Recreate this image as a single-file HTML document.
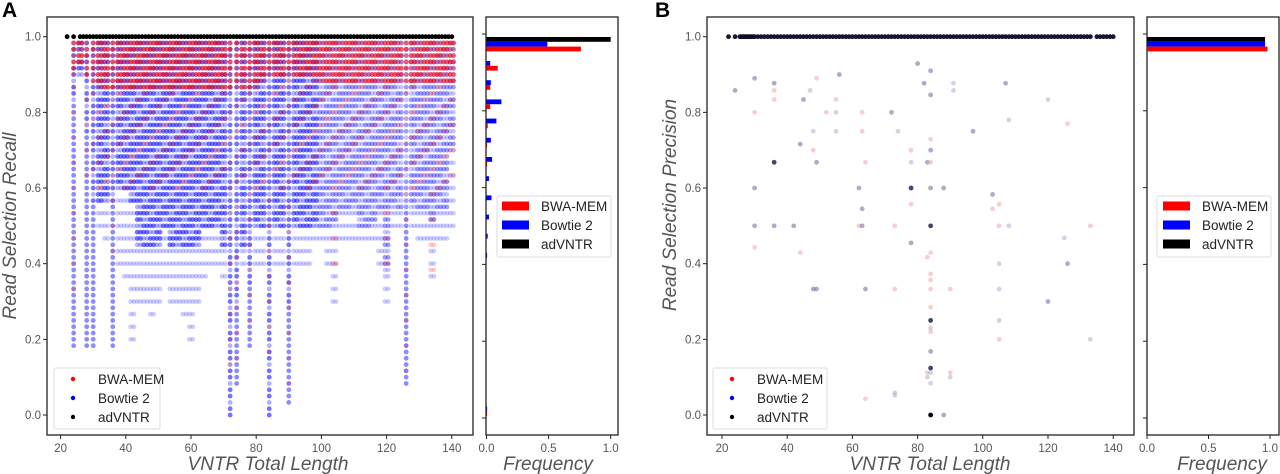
<!DOCTYPE html>
<html><head><meta charset="utf-8">
<style>
html,body{margin:0;padding:0;background:#fff;}
svg{display:block;font-family:"Liberation Sans","DejaVu Sans",sans-serif;}
.tk{font-size:11.5px;fill:#555;}
.ttl{font-size:19px;fill:#555;font-style:italic;}
.lg{font-size:13.5px;fill:#222;}
</style></head>
<body>
<svg id="fig" width="1280" height="474" viewBox="0 0 1280 474">
  <text x="2" y="17" font-size="21" font-weight="bold" fill="#000">A</text>
  <text x="655" y="17" font-size="21" font-weight="bold" fill="#000">B</text>
  <g id="aScatter"></g>
  <g id="aHist"></g>
  <g id="bScatter"></g>
  <g id="bHist"></g>
</svg>
<script>
// ---------- data ----------
const yTicks = [0.0, 0.2, 0.4, 0.6, 0.8, 1.0];
const xTicks = [20, 40, 60, 80, 100, 120, 140];
const freqTicks = [0.0, 0.5, 1.0];
const colX = [24,26,28,30,32,34,36,38,40,42,44,46,48,50,52,54,56,58,60,62,64,66,68,70,72,74,76,78,80,82,84,86,88,90,92,94,96,98,100,102,104,106,108,110,112,114,116,118,120,122,124,126,128,130,132,134,136,138,140];
const blueMin = [0.82,0.9,0.75,0.56,0.56,0.56,0.56,0.6,0.6,0.56,0.45,0.45,0.45,0.45,0.5,0.45,0.45,0.45,0.45,0.45,0.5,0.5,0.5,0.45,0.0,0.3,0.45,0.35,0.5,0.5,0.0,0.5,0.5,0.3,0.5,0.5,0.5,0.5,0.5,0.5,0.5,0.55,0.55,0.55,0.5,0.5,0.5,0.55,0.38,0.55,0.55,0.55,0.55,0.55,0.55,0.5,0.55,0.55,0.7];
const blueLow = [0.17,0.9,0.17,0.17,0.5,0.45,0.17,0.4,0.35,0.2,0.3,0.3,0.25,0.3,0.35,0.3,0.3,0.25,0.2,0.3,0.35,0.4,0.4,0.35,0.0,0.07,0.4,0.17,0.4,0.4,0.0,0.4,0.4,0.03,0.4,0.4,0.4,0.45,0.45,0.4,0.3,0.45,0.45,0.45,0.45,0.45,0.45,0.4,0.3,0.5,0.5,0.07,0.5,0.45,0.45,0.35,0.45,0.45,0.5];
const redMin = [0.9,0.93,0.9,0.88,0.88,0.86,0.86,0.86,0.86,0.86,0.86,0.86,0.86,0.86,0.86,0.86,0.86,0.86,0.86,0.86,0.86,0.86,0.86,0.86,0.86,0.86,0.86,0.86,0.88,0.9,0.9,0.9,0.9,0.9,0.9,0.9,0.9,0.9,0.88,0.88,0.88,0.88,0.88,0.88,0.88,0.88,0.88,0.88,0.88,0.88,0.88,0.88,0.88,0.88,0.88,0.88,0.88,0.88,0.88];
const redLow = [0.3,0.9,0.6,0.6,0.6,0.6,0.4,0.6,0.6,0.6,0.6,0.6,0.6,0.6,0.6,0.6,0.6,0.6,0.6,0.6,0.6,0.6,0.6,0.6,0.1,0.15,0.6,0.2,0.6,0.6,0.15,0.6,0.6,0.03,0.6,0.6,0.6,0.6,0.6,0.6,0.35,0.6,0.6,0.6,0.6,0.6,0.6,0.6,0.4,0.6,0.6,0.07,0.6,0.6,0.6,0.38,0.6,0.6,0.6];
const advX = [22,24,26,27,28,29,30,31,32,33,34,35,36,37,38,39,40,41,42,43,44,45,46,47,48,49,50,51,52,53,54,55,56,57,58,59,60,61,62,63,64,65,66,67,68,69,70,71,72,73,74,75,76,77,78,79,80,81,82,83,84,85,86,87,88,89,90,91,92,93,94,95,96,97,98,99,100,101,102,103,104,105,106,107,108,109,110,111,112,113,114,115,116,117,118,119,120,121,122,123,124,125,126,127,128,129,130,131,132,133,134,135,136,137,138,139,140];
const histAdvA = [1.0,0,0,0,0,0,0,0,0,0,0,0,0,0,0,0,0,0,0,0];
const histBowA = [0.49,0.03,0.035,0.12,0.08,0.035,0.045,0.02,0.04,0.02,0.01,0.005,0,0,0,0,0,0,0,0.005];
const histBwaA = [0.76,0.09,0.03,0.03,0.01,0.005,0.005,0,0,0,0,0,0,0,0,0,0,0,0,0.005];
const pbX = [80,84,30,49,56,36,82,91,107,24,36,47,91,84,36,45,55,120,30,52,55,63,72,108,126,48,55,63,74,97,84,44,48,78,84,36,49,64,78,83,84,30,62,78,84,88,103,78,63,103,105,30,36,42,62,63,73,84,105,108,133,125,78,30,44,84,83,105,126,84,84,48,49,64,73,84,90,105,120,84,84,105,84,84,105,133,84,84,83,84,90,90,83,84,64,73,73,84,88];
const pbY = [0.929,0.91,0.89,0.89,0.90,0.877,0.877,0.877,0.877,0.858,0.858,0.858,0.858,0.846,0.834,0.834,0.834,0.834,0.80,0.80,0.80,0.80,0.80,0.78,0.77,0.75,0.75,0.75,0.75,0.75,0.729,0.716,0.70,0.70,0.70,0.668,0.668,0.668,0.668,0.668,0.668,0.60,0.60,0.60,0.60,0.60,0.583,0.557,0.545,0.545,0.557,0.50,0.50,0.50,0.50,0.50,0.50,0.50,0.50,0.50,0.50,0.468,0.455,0.443,0.429,0.429,0.417,0.40,0.40,0.373,0.357,0.333,0.333,0.333,0.333,0.333,0.333,0.333,0.30,0.285,0.25,0.25,0.23,0.22,0.20,0.20,0.168,0.124,0.112,0.112,0.112,0.10,0.10,0.084,0.043,0.059,0.052,0.0,0.0];
const pbT = ['g','g','g','p','g','g','g','l','g','g','p','l','l','g','p','g','p','l','p','p','l','p','g','l','p','l','l','p','l','g','p','g','p','p','g','d','g','p','l','g','p','g','g','d','g','g','g','p','g','p','p','g','g','g','p','g','p','d','p','l','p','l','g','p','p','p','p','l','g','p','p','g','g','g','p','p','p','l','g','p','d','l','l','p','p','l','g','d','p','l','p','l','l','l','p','l','l','k','g'];
const advBX = [22,24,25.5,26,26.5,27,27.5,28,28.5,29,29.5,30,31,32,33,34,35,36,37,38,39,40,41,42,43,44,45,46,47,48,49,50,51,52,53,54,55,56,57,58,59,60,61,62,63,64,65,66,67,68,69,70,71,72,73,74,75,76,77,78,79,80,81,82,83,84,85,86,87,88,89,90,91,92,93,94,95,96,97,98,99,100,101,102,103,104,105,106,107,108,109,110,111,112,113,114,115,116,117,118,119,120,121,122,123,124,125,126,127,128,129,130,131,132,133,135,136,137,138,139,140];
const histAdvB = [0.96];
const histBowB = [0.96];
const histBwaB = [0.98];

// ---------- helpers ----------
const NS = 'http://www.w3.org/2000/svg';
function mk(tag, parent, attrs){ const e=document.createElementNS(NS,tag); for(const k in attrs) e.setAttribute(k,attrs[k]); parent.appendChild(e); return e; }
const yS = v => 415 - 378.3*v;
const yH = v => 418 - 384*v;
const axA = v => 60.6 + (v-20)*3.26;
const axB = v => 722 + (v-20)*3.26;
const fxA = v => 486.5 + v*124.2;
const fxB = v => 1147 + v*123;

function frame(g, x0, y0, x1, y1, name){
  const r = mk('rect', g, {x:x0, y:y0, width:x1-x0, height:y1-y0, fill:'none', stroke:'#222', 'stroke-width':1.3});
  
  
}
function axesScatter(g, xs, left, right){
  xTicks.forEach(t=>{
    const x = xs(t);
    const l = mk('line', g, {x1:x, x2:x, y1:435, y2:439, stroke:'#222'});
    
    
    const tx = mk('text', g, {x:x, y:452, 'text-anchor':'middle', class:'tk'});
    tx.textContent = t;
    
    
  });
  yTicks.forEach(t=>{
    const y = yS(t);
    const l = mk('line', g, {x1:left-4, x2:left, y1:y, y2:y, stroke:'#222'});
    
    
    const tx = mk('text', g, {x:left-6, y:y+4, 'text-anchor':'end', class:'tk'});
    tx.textContent = t.toFixed(1);
    
    
  });
}
function axesHist(g, fx, left, right){
  freqTicks.forEach(t=>{
    const x = fx(t);
    const l = mk('line', g, {x1:x, x2:x, y1:435, y2:439, stroke:'#222'});
    
    
    const tx = mk('text', g, {x:x, y:452, 'text-anchor':'middle', class:'tk'});
    tx.textContent = t.toFixed(1);
    
    
  });
  yTicks.forEach(t=>{
    const y = yH(t);
    const l = mk('line', g, {x1:left-4, x2:left, y1:y, y2:y, stroke:'#222'});
    
    
  });
}
function dot(g, cx, cy, r, fill, op, name){
  const c = mk('circle', g, {cx:cx, cy:cy, r:r, fill:fill, 'fill-opacity':op});
  
  
  return c;
}
function bars(g, fx, adv, bow, bwa){
  const h = 4.8;
  for(let k=0;k<adv.length;k++){
    const top = yH(1.0 - 0.05*k) + 3;
    const x0 = fx(0);
    [[adv[k],'#000','bar-advntr'],[bow[k],'#0000ff','bar-bowtie2'],[bwa[k],'#ff0000','bar-bwa-mem']].forEach((s,i)=>{
      if(s[0] <= 0) return;
      const r = mk('rect', g, {x:x0, y:top + i*h, width:fx(s[0])-x0, height:h, fill:s[1]});
      
      
    });
  }
}
function legendScatter(g, x0, y0, w, mx, tx){
  const box = mk('rect', g, {x:x0, y:y0, width:w, height:61, fill:'#fff', 'fill-opacity':0.85, stroke:'#ddd', rx:2});
  
  
  [['BWA-MEM','#ff0000'],['Bowtie 2','#0000ff'],['adVNTR','#000']].forEach((e,i)=>{
    const y = y0 + 11 + i*19;
    const c = mk('circle', g, {cx:mx, cy:y, r:2.2, fill:e[1]});
    
    
    const t = mk('text', g, {x:tx, y:y+5, class:'lg'});
    t.textContent = e[0];
    
    
  });
}
function legendHist(g, x0, px, tx){
  const box = mk('rect', g, {x:x0, y:196, width:114, height:61, fill:'#fff', stroke:'#ddd', rx:2});
  
  
  [['BWA-MEM','#ff0000'],['Bowtie 2','#0000ff'],['adVNTR','#000']].forEach((e,i)=>{
    const y = 206 + i*19;
    const r = mk('rect', g, {x:px, y:y-4.5, width:27, height:9, fill:e[1]});
    
    
    const t = mk('text', g, {x:tx, y:y+5, class:'lg', 'font-size':'14px'});
    t.textContent = e[0];
    
    
  });
}
function title(g, txt, x, y, rot, name){
  const t = mk('text', g, {x:x, y:y, 'text-anchor':'middle', class:'ttl'});
  if(rot) t.setAttribute('transform', `rotate(-90 ${x} ${y})`);
  t.textContent = txt;
  
  
}

// ---------- Panel A scatter ----------
const gA = document.getElementById('aScatter');
frame(gA, 47, 17, 473, 435, 'recall-plot-frame');
axesScatter(gA, axA, 47, 473);
const dA = mk('g', gA, {});
colX.forEach((xv,i)=>{
  const streak = blueLow[i] < 0.2;
  const offs = streak ? [0] : [-0.5, 0.5];
  const light = xv >= 100 ? 0.7 : 1;
  offs.forEach(o=>{
    const cx = axA(xv + o);
    for(let k=1;k<=60;k++){
      const v = 1 - k/60;
      const cy = yS(v);
      if(v >= blueMin[i]-1e-9) dot(dA, cx, cy, 2.4, '#0000ff', ((k+i)%3===1 ? 0.3 : 0.55)*light, 'bowtie2-point');
      else if(v >= blueLow[i]-1e-9 && (k%2===0 || streak)) dot(dA, cx, cy, 2.4, '#0000ff', streak ? 0.45 : 0.2, 'bowtie2-point');
    }
  });
});
colX.forEach((xv,i)=>{
  const streak = blueLow[i] < 0.2;
  const offs = streak ? [0] : [-0.5, 0.5];
  offs.forEach(o=>{
    const cx = axA(xv + o);
    for(let k=1;k<=60;k++){
      const v = 1 - k/60;
      const cy = yS(v);
      if(v >= redMin[i]-1e-9) dot(dA, cx, cy, 2.5, '#ff0000', (k+i)%3===0 ? 0.25 : 0.55, 'bwa-mem-point');
      else if(v >= redLow[i]-1e-9 && (k+i)%4===0) dot(dA, cx, cy, 2.4, '#ff0000', 0.2, 'bwa-mem-point');
    }
  });
});
advX.forEach(xv=>{ dot(dA, axA(xv), yS(1.0), 2.4, '#000', 1, 'advntr-point'); });
legendScatter(gA, 54, 368, 106, 73, 98);
title(gA, 'VNTR Total Length', 268, 470, false, 'x-axis-title');
title(gA, 'Read Selection Recall', 16, 226, true, 'y-axis-title');

// ---------- Panel A histogram ----------
const hA = document.getElementById('aHist');
frame(hA, 486, 17, 618, 435, 'recall-hist-frame');
axesHist(hA, fxA, 486, 618);
bars(hA, fxA, histAdvA, histBowA, histBwaA);
legendHist(hA, 497, 502, 541);
title(hA, 'Frequency', 548, 470, false, 'hist-x-axis-title');

// ---------- Panel B scatter ----------
const gB = document.getElementById('bScatter');
frame(gB, 707, 17, 1134, 435, 'precision-plot-frame');
axesScatter(gB, axB, 707, 1134);
const dB = mk('g', gB, {});
const typeStyle = {g:['#6a6a9a',0.55],l:['#a8a8cc',0.5],p:['#f0a0a8',0.5],d:['#303060',0.9],k:['#000018',1]};
pbX.forEach((xv,i)=>{
  const s = typeStyle[pbT[i]];
  dot(dB, axB(xv), yS(pbY[i]), 2.4, s[0], s[1], 'precision-point');
});
advBX.forEach(xv=>{ dot(dB, axB(xv), yS(1.0), 2.4, '#100828', 0.95, 'advntr-point'); });
legendScatter(gB, 713, 368, 114, 732, 757);
title(gB, 'VNTR Total Length', 930, 470, false, 'x-axis-title');
title(gB, 'Read Selection Precision', 676, 205, true, 'y-axis-title');

// ---------- Panel B histogram ----------
const hB = document.getElementById('bHist');
frame(hB, 1147, 17, 1279, 435, 'precision-hist-frame');
axesHist(hB, fxB, 1147, 1279);
bars(hB, fxB, histAdvB, histBowB, histBwaB);
legendHist(hB, 1157, 1163, 1202);
title(hB, 'Frequency', 1222, 470, false, 'hist-x-axis-title');
</script>
</body></html>
